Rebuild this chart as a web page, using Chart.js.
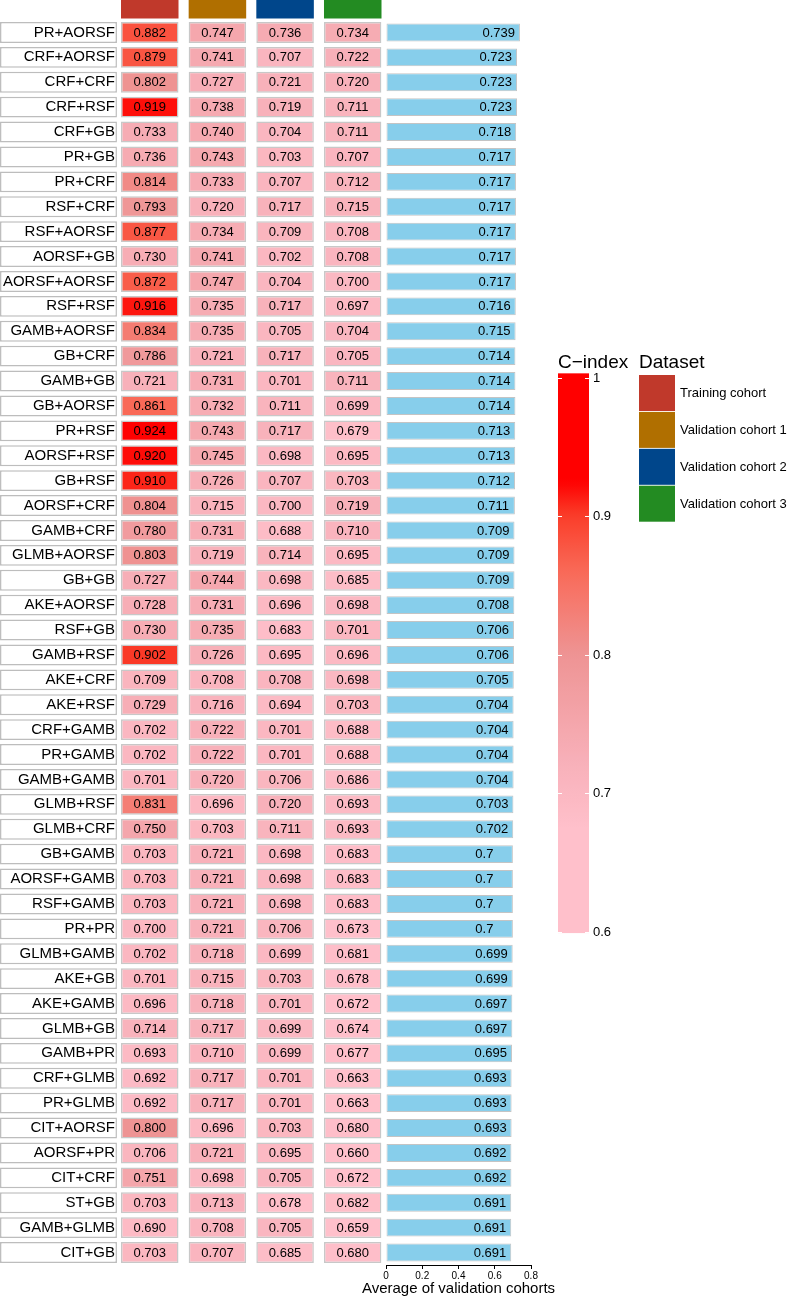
<!DOCTYPE html>
<html>
<head>
<meta charset="utf-8">
<script src="https://cdn.jsdelivr.net/npm/chart.js@4.4.1/dist/chart.umd.min.js"></script>
<style>
  html, body { margin: 0; padding: 0; background: #fff; }
  #wrap { position: relative; width: 788px; height: 1298px; }
  #wrap canvas { position: absolute; left: 0; top: 0; }
</style>
</head>
<body>
<div id="wrap">
  <canvas id="heat" width="788" height="1298"></canvas>
  <canvas id="avg" width="788" height="1298"></canvas>
</div>
<script>
const models = [
  'PR+AORSF', 'CRF+AORSF', 'CRF+CRF', 'CRF+RSF', 'CRF+GB', 'PR+GB', 'PR+CRF', 'RSF+CRF',
  'RSF+AORSF', 'AORSF+GB', 'AORSF+AORSF', 'RSF+RSF', 'GAMB+AORSF', 'GB+CRF', 'GAMB+GB',
  'GB+AORSF', 'PR+RSF', 'AORSF+RSF', 'GB+RSF', 'AORSF+CRF', 'GAMB+CRF', 'GLMB+AORSF',
  'GB+GB', 'AKE+AORSF', 'RSF+GB', 'GAMB+RSF', 'AKE+CRF', 'AKE+RSF', 'CRF+GAMB', 'PR+GAMB',
  'GAMB+GAMB', 'GLMB+RSF', 'GLMB+CRF', 'GB+GAMB', 'AORSF+GAMB', 'RSF+GAMB', 'PR+PR',
  'GLMB+GAMB', 'AKE+GB', 'AKE+GAMB', 'GLMB+GB', 'GAMB+PR', 'CRF+GLMB', 'PR+GLMB',
  'CIT+AORSF', 'AORSF+PR', 'CIT+CRF', 'ST+GB', 'GAMB+GLMB', 'CIT+GB'
];
const training = [
  0.882, 0.879, 0.802, 0.919, 0.733, 0.736, 0.814, 0.793, 0.877, 0.730,
  0.872, 0.916, 0.834, 0.786, 0.721, 0.861, 0.924, 0.920, 0.910, 0.804,
  0.780, 0.803, 0.727, 0.728, 0.730, 0.902, 0.709, 0.729, 0.702, 0.702,
  0.701, 0.831, 0.750, 0.703, 0.703, 0.703, 0.700, 0.702, 0.701, 0.696,
  0.714, 0.693, 0.692, 0.692, 0.800, 0.706, 0.751, 0.703, 0.690, 0.703
];
const validation1 = [
  0.747, 0.741, 0.727, 0.738, 0.740, 0.743, 0.733, 0.720, 0.734, 0.741,
  0.747, 0.735, 0.735, 0.721, 0.731, 0.732, 0.743, 0.745, 0.726, 0.715,
  0.731, 0.719, 0.744, 0.731, 0.735, 0.726, 0.708, 0.716, 0.722, 0.722,
  0.720, 0.696, 0.703, 0.721, 0.721, 0.721, 0.721, 0.718, 0.715, 0.718,
  0.717, 0.710, 0.717, 0.717, 0.696, 0.721, 0.698, 0.713, 0.708, 0.707
];
const validation2 = [
  0.736, 0.707, 0.721, 0.719, 0.704, 0.703, 0.707, 0.717, 0.709, 0.702,
  0.704, 0.717, 0.705, 0.717, 0.701, 0.711, 0.717, 0.698, 0.707, 0.700,
  0.688, 0.714, 0.698, 0.696, 0.683, 0.695, 0.708, 0.694, 0.701, 0.701,
  0.706, 0.720, 0.711, 0.698, 0.698, 0.698, 0.706, 0.699, 0.703, 0.701,
  0.699, 0.699, 0.701, 0.701, 0.703, 0.695, 0.705, 0.678, 0.705, 0.685
];
const validation3 = [
  0.734, 0.722, 0.720, 0.711, 0.711, 0.707, 0.712, 0.715, 0.708, 0.708,
  0.700, 0.697, 0.704, 0.705, 0.711, 0.699, 0.679, 0.695, 0.703, 0.719,
  0.710, 0.695, 0.685, 0.698, 0.701, 0.696, 0.698, 0.703, 0.688, 0.688,
  0.686, 0.693, 0.693, 0.683, 0.683, 0.683, 0.673, 0.681, 0.678, 0.672,
  0.674, 0.677, 0.663, 0.663, 0.680, 0.660, 0.672, 0.682, 0.659, 0.680
];
const avgValidation = [
  0.739, 0.723, 0.723, 0.723, 0.718, 0.717, 0.717, 0.717, 0.717, 0.717,
  0.717, 0.716, 0.715, 0.714, 0.714, 0.714, 0.713, 0.713, 0.712, 0.711,
  0.709, 0.709, 0.709, 0.708, 0.706, 0.706, 0.705, 0.704, 0.704, 0.704,
  0.704, 0.703, 0.702, 0.7, 0.7, 0.7, 0.7, 0.699, 0.699, 0.697,
  0.697, 0.695, 0.693, 0.693, 0.693, 0.692, 0.692, 0.691, 0.691, 0.691
];
const cohortNames = ['Training cohort', 'Validation cohort 1', 'Validation cohort 2', 'Validation cohort 3'];
const avgTicks = [0, 0.2, 0.4, 0.6, 0.8];
const legendTicks = [0.6, 0.7, 0.8, 0.9, 1];

const cohortData = [training, validation1, validation2, validation3];
const cohortColors = ['#C0392B', '#B06F00', '#00468B', '#238B22'];
const FONT = "'Liberation Sans', Arial, sans-serif";
const CELL_W = 0.85;            // cell width as a share of one column
const LABEL_BOX = [-1.788, -0.06]; // name boxes, in column units left of the first column

Chart.defaults.font.family = FONT;
Chart.defaults.color = '#000';

// pink -> red ramp
const ramp = [
  [0.675, [255, 192, 203]],
  [0.72, [248, 177, 186]],
  [0.80, [238, 148, 148]],
  [0.86, [249, 106, 88]],
  [0.90, [250, 62, 42]],
  [0.925, [255, 0, 0]]
];
function cindexColor(v) {
  if (v <= ramp[0][0]) return 'rgb(' + ramp[0][1].join(',') + ')';
  for (let k = 1; k < ramp.length; k++) {
    if (v <= ramp[k][0]) {
      const [v0, c0] = ramp[k - 1];
      const [v1, c1] = ramp[k];
      const t = (v - v0) / (v1 - v0);
      const c = c0.map((a, j) => Math.round(a + (c1[j] - a) * t));
      return 'rgb(' + c.join(',') + ')';
    }
  }
  return 'rgb(' + ramp[ramp.length - 1][1].join(',') + ')';
}

const cellText = {
  id: 'cellText',
  afterDatasetsDraw(chart) {
    const ctx = chart.ctx;
    ctx.save();
    ctx.font = '13px ' + FONT;
    ctx.fillStyle = '#000';
    ctx.textAlign = 'center';
    ctx.textBaseline = 'middle';
    cohortData.forEach((vals, c) => {
      chart.getDatasetMeta(c + 1).data.forEach((el, i) => {
        const p = el.getCenterPoint();
        ctx.fillText(vals[i].toFixed(3), p.x, p.y + 0.5);
      });
    });
    ctx.restore();
  },
  afterDraw(chart) {
    // column annotation strip on top
    const ctx = chart.ctx;
    const x = chart.scales.x;
    ctx.save();
    cohortColors.forEach((col, c) => {
      const x0 = x.getPixelForValue(c);
      const x1 = x.getPixelForValue(c + CELL_W);
      ctx.fillStyle = col;
      ctx.fillRect(x0, 0, x1 - x0, 18.5);
    });
    ctx.restore();
  }
};

const heatDatasets = [{
  label: 'names',
  data: models.map(() => LABEL_BOX),
  backgroundColor: '#fff',
  borderColor: '#BDBDBD',
  borderWidth: 1.5,
  borderSkipped: false,
  clip: false
}].concat(cohortData.map((vals, c) => ({
  label: cohortNames[c],
  data: vals.map(() => [c, c + CELL_W]),
  backgroundColor: ctx => cindexColor(vals[ctx.dataIndex]),
  borderColor: '#C8C8C8',
  borderWidth: 1.5,
  borderSkipped: false
})));

new Chart(document.getElementById('heat'), {
  type: 'bar',
  data: { labels: models, datasets: heatDatasets },
  options: {
    indexAxis: 'y',
    responsive: false,
    animation: false,
    grouped: false,
    barPercentage: 0.84,
    categoryPercentage: 1,
    layout: { padding: { left: 0, right: 406.5, top: 20, bottom: 33 } },
    plugins: { legend: { display: false }, tooltip: { enabled: false } },
    scales: {
      x: { type: 'linear', min: 0, max: 3.85, display: false },
      y: {
        grid: { display: false, drawTicks: false },
        border: { display: false },
        ticks: { z: 1, font: { size: 15 }, color: '#000', padding: 6, autoSkip: false },
        afterFit: s => { s.width = 121; }
      }
    }
  },
  plugins: [cellText]
});

const avgLabels = {
  id: 'avgLabels',
  afterDatasetsDraw(chart) {
    const ctx = chart.ctx;
    ctx.save();
    ctx.font = '13px ' + FONT;
    ctx.fillStyle = '#000';
    ctx.textAlign = 'left';
    ctx.textBaseline = 'middle';
    const w = ctx.measureText('0.000').width;
    chart.getDatasetMeta(0).data.forEach((bar, i) => {
      ctx.fillText(String(avgValidation[i]), bar.x - 5 - w, bar.y + 0.5);
    });
    ctx.restore();
  },
  afterDraw(chart) {
    // axis title, wider than the axis itself so drawn without squeezing
    const x = chart.scales.x;
    const ctx = chart.ctx;
    ctx.save();
    ctx.font = '15px ' + FONT;
    ctx.fillStyle = '#000';
    ctx.textAlign = 'center';
    ctx.textBaseline = 'middle';
    ctx.fillText('Average of validation cohorts', (x.left + x.right) / 2, x.bottom - 9);
    ctx.restore();
  }
};

const sideLegends = {
  id: 'sideLegends',
  afterDraw(chart) {
    const ctx = chart.ctx;
    ctx.save();
    ctx.fillStyle = '#000';
    ctx.font = '19px ' + FONT;
    ctx.textBaseline = 'alphabetic';
    ctx.textAlign = 'left';
    ctx.fillText('C\u2212index', 558, 368);
    ctx.fillText('Dataset', 639, 368);

    // colour bar
    const yOf = v => 931.7 - (v - 0.6) * 1385.5;
    const bx = 558, bw = 31;
    const top = yOf(1.003), bot = yOf(0.599);
    const grad = ctx.createLinearGradient(0, bot, 0, top);
    for (let k = 0; k <= 80; k++) {
      grad.addColorStop(k / 80, cindexColor(0.599 + (1.003 - 0.599) * k / 80));
    }
    ctx.fillStyle = grad;
    ctx.fillRect(bx, top, bw, bot - top);
    ctx.strokeStyle = '#fff';
    ctx.lineWidth = 1;
    ctx.font = '13px ' + FONT;
    ctx.textBaseline = 'middle';
    legendTicks.forEach(t => {
      const y = Math.round(yOf(t)) + 0.5;
      ctx.beginPath();
      ctx.moveTo(bx, y); ctx.lineTo(bx + 4, y);
      ctx.moveTo(bx + bw - 4, y); ctx.lineTo(bx + bw, y);
      ctx.stroke();
      ctx.fillStyle = '#000';
      ctx.fillText(String(t), bx + bw + 4, y);
    });

    // dataset key
    cohortNames.forEach((name, c) => {
      const y0 = 375 + c * 36.9;
      ctx.fillStyle = cohortColors[c];
      ctx.fillRect(639, y0, 36, 36);
      ctx.fillStyle = '#000';
      ctx.fillText(name, 680, y0 + 18.5);
    });
    ctx.restore();
  }
};

new Chart(document.getElementById('avg'), {
  type: 'bar',
  data: {
    labels: models,
    datasets: [{
      label: 'Average of validation cohorts',
      data: avgValidation,
      backgroundColor: '#87CEEB',
      borderColor: '#C4C4C4',
      borderWidth: 1,
      borderSkipped: false,
      barPercentage: 0.72,
      categoryPercentage: 1
    }]
  },
  options: {
    indexAxis: 'y',
    responsive: false,
    animation: false,
    layout: { padding: { left: 386, right: 257, top: 20, bottom: 0 } },
    plugins: { legend: { display: false }, tooltip: { enabled: false } },
    scales: {
      x: {
        min: avgTicks[0],
        max: avgTicks[avgTicks.length - 1],
        afterBuildTicks: s => { s.ticks = avgTicks.map(v => ({ value: v })); },
        ticks: { font: { size: 10 }, color: '#000', padding: 1 },
        grid: { drawOnChartArea: false, tickLength: 4, color: '#000' },
        border: { color: '#000', width: 1 },
        afterFit: s => { s.height = 33; }
      },
      y: { display: false }
    }
  },
  plugins: [avgLabels, sideLegends]
});
</script>
</body>
</html>
